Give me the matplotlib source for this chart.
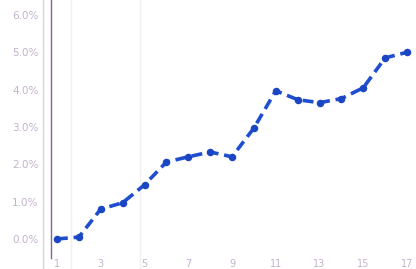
import matplotlib
matplotlib.use('Agg')
import matplotlib.pyplot as plt
from matplotlib.ticker import FuncFormatter

# values (percent)
points = list(range(1, 18))
values = [0.0, 0.05, 0.8, 0.97, 1.45, 2.06, 2.2, 2.33, 2.2, 2.97,
          3.97, 3.73, 3.65, 3.76, 4.05, 4.85, 5.0]
y_ticks = [0, 1, 2, 3, 4, 5, 6]
x_ticks = [1, 3, 5, 7, 9, 11, 13, 15, 17]

fig = plt.figure(figsize=(4.16, 2.69), dpi=100)
ax = fig.add_axes([51 / 416, 11 / 269, 1 - 51 / 416, 1 - 11 / 269])
ax.patch.set_alpha(0)

ax.plot(points, values, color='#1f4fcf', lw=2.6, ls=(0, (3, 1.6)),
        marker='o', ms=4.4, mfc='#1a46c4', mec='#1a46c4')

ax.set_xlim(0.726, 17.41)
ax.set_ylim(-0.51, 6.4)
ax.set_yticks(y_ticks)
ax.yaxis.set_major_formatter(FuncFormatter(lambda v, p: '{:.1f}%'.format(v)))
ax.set_xticks(x_ticks)
ax.tick_params(axis='y', length=0, pad=9, labelsize=7.5, labelcolor='#c4b2cc')
ax.tick_params(axis='x', length=0, pad=1, labelsize=7, labelcolor='#c4b2cc')

for s in ['top', 'right', 'bottom']:
    ax.spines[s].set_visible(False)
ax.spines['left'].set_color('#8a5fa8')
ax.spines['left'].set_linewidth(1.0)

# faint separators, kept behind the data
fig.add_artist(plt.Line2D([43 / 416, 43 / 416], [0, 1], color='#d6d6d6', lw=1, zorder=-1))
for xf in [71 / 416, 140 / 416]:
    fig.add_artist(plt.Line2D([xf, xf], [0, 1], color='#f0f0f0', lw=1, zorder=-1))
ax.grid(False)

fig.savefig('out.png', dpi=100)
